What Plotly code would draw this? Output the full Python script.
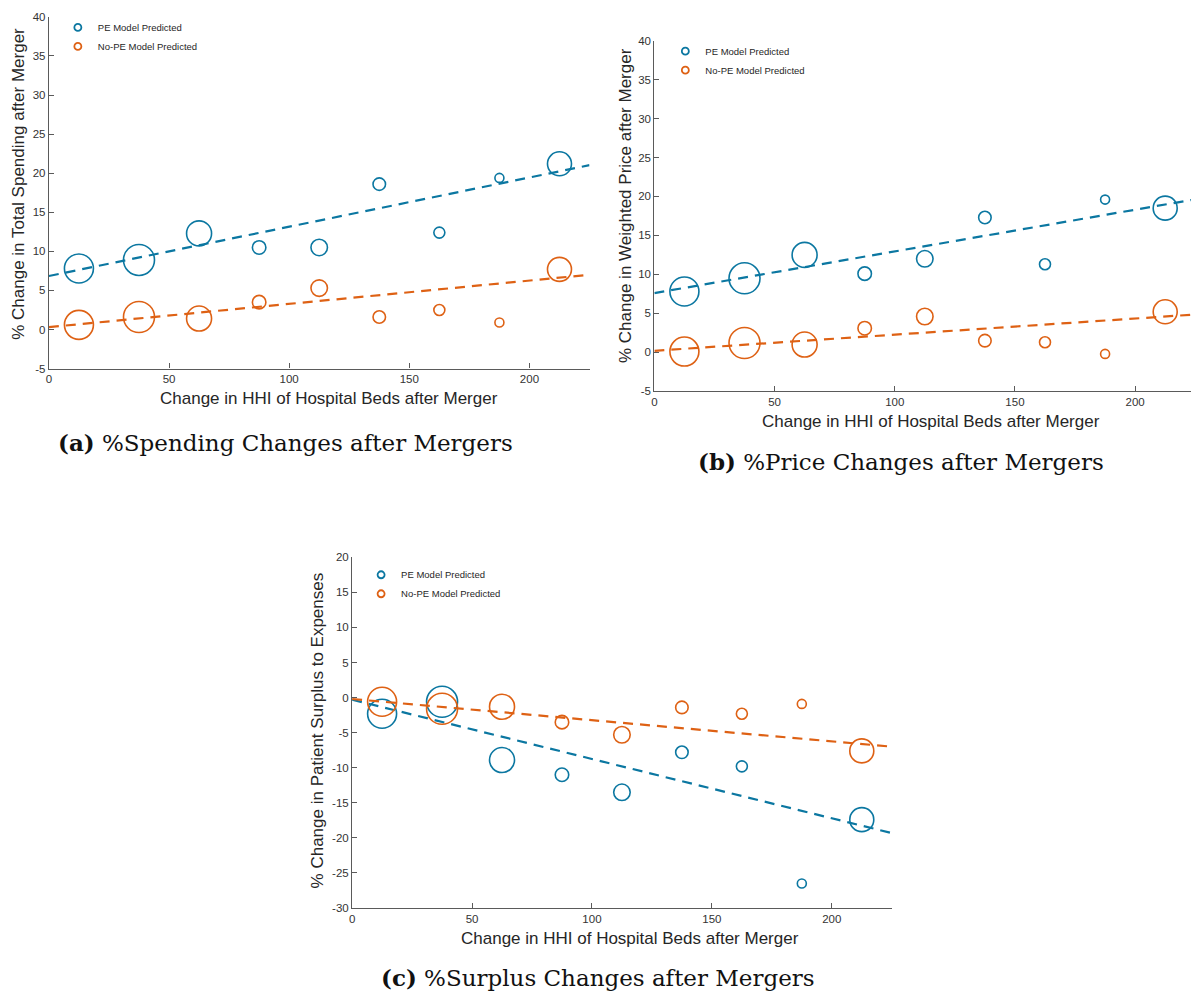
import plotly.graph_objects as go

# ---------------- data ----------------
hhi_bins = [12.5, 37.5, 62.5, 87.5, 112.5, 137.5, 162.5, 187.5, 212.5]
bin_weight = [29, 31, 25, 13.5, 16.5, 12.5, 11, 9, 24]  # marker diameter per bin

spend_pe = [7.8, 8.9, 12.3, 10.5, 10.5, 18.6, 12.4, 19.4, 21.2]
spend_nope = [0.6, 1.6, 1.4, 3.5, 5.3, 1.6, 2.5, 0.9, 7.7]
spend_fit_pe = (6.85, 0.063)      # intercept, slope
spend_fit_nope = (0.3, 0.0298)

price_pe = [7.8, 9.5, 12.5, 10.1, 12.0, 17.3, 11.3, 19.6, 18.5]
price_nope = [0.1, 1.2, 1.0, 3.1, 4.6, 1.5, 1.3, -0.2, 5.2]
price_fit_pe = (7.6, 0.0535)
price_fit_nope = (0.2, 0.0207)

surplus_pe = [-2.3, -0.6, -8.9, -11.0, -13.5, -7.8, -9.8, -26.5, -17.4]
surplus_nope = [-0.6, -1.6, -1.3, -3.5, -5.3, -1.4, -2.3, -0.9, -7.6]
surplus_fit_pe = (-0.3, -0.0845)
surplus_fit_nope = (-0.2, -0.0302)

fit_x = [0, 225]
x_ticks = [0, 50, 100, 150, 200]
y_ticks_ab = [-5, 0, 5, 10, 15, 20, 25, 30, 35, 40]
y_ticks_c = [-30, -25, -20, -15, -10, -5, 0, 5, 10, 15, 20]

series_names = ["PE Model Predicted", "No-PE Model Predicted"]
blue = "#0B77A1"
orange = "#DE6114"

panels = [
    dict(pe=spend_pe, nope=spend_nope, fpe=spend_fit_pe, fno=spend_fit_nope,
         ytitle="% Change in Total Spending after Merger",
         caption="<b>(a)</b> %Spending Changes after Mergers",
         yrange=[-5, 40], yticks=y_ticks_ab, xdom=[46, 588], ydom=[11, 367], xmax=225,
         legend_pos=(55, 7), xt=(327, 397), yt=(16, 180), cap=(283, 442)),
    dict(pe=price_pe, nope=price_nope, fpe=price_fit_pe, fno=price_fit_nope,
         ytitle="% Change in Weighted Price after Merger",
         caption="<b>(b)</b> %Price Changes after Mergers",
         yrange=[-5, 40], yticks=y_ticks_ab, xdom=[653, 1191], ydom=[35, 390], xmax=(1191 - 653) / 2.41,
         legend_pos=(664, 31), xt=(930, 421), yt=(624, 202), cap=(900, 461)),
    dict(pe=surplus_pe, nope=surplus_nope, fpe=surplus_fit_pe, fno=surplus_fit_nope,
         ytitle="% Change in Patient Surplus to Expenses",
         caption="<b>(c)</b> %Surplus Changes after Mergers",
         yrange=[-30, 20], yticks=y_ticks_c, xdom=[350, 891], ydom=[558, 913], xmax=225,
         legend_pos=(359, 561), xt=(629, 944), yt=(315, 733), cap=(597, 983)),
]

W, H = 1191, 1000
fig = go.Figure()
annotations = []
axis_common = dict(showgrid=False, zeroline=False, showline=True, linecolor="#5a5a5a",
                   linewidth=1.2, ticks="inside", ticklen=5, tickcolor="#5a5a5a",
                   tickfont=dict(family="Liberation Sans, Arial", size=11.5, color="#333333"))

for i, p in enumerate(panels, start=1):
    xa = "x" if i == 1 else f"x{i}"
    ya = "y" if i == 1 else f"y{i}"
    leg = "legend" if i == 1 else f"legend{i}"
    for vals, fit, col, name in [(p["pe"], p["fpe"], blue, series_names[0]),
                                 (p["nope"], p["fno"], orange, series_names[1])]:
        fig.add_trace(go.Scatter(
            x=hhi_bins, y=vals, mode="markers", xaxis=xa, yaxis=ya, showlegend=False, name=name,
            marker=dict(symbol="circle-open", size=bin_weight, color=col, opacity=1,
                        line=dict(width=1.6, color=col)),
            cliponaxis=False, hoverinfo="x+y"))
        fig.add_trace(go.Scatter(
            x=fit_x, y=[fit[0] + fit[1] * xv for xv in fit_x], mode="lines",
            xaxis=xa, yaxis=ya, showlegend=False,
            line=dict(color=col, width=2.2, dash="10px,7px"), hoverinfo="skip"))
    for col, name in [(blue, series_names[0]), (orange, series_names[1])]:
        fig.add_trace(go.Scatter(
            x=[None], y=[None], mode="markers", xaxis=xa, yaxis=ya, name=name, legend=leg,
            marker=dict(symbol="circle-open", size=7, color=col, opacity=1,
                        line=dict(width=1.8, color=col))))

    xd = [p["xdom"][0] / W, p["xdom"][1] / W]
    yd = [1 - p["ydom"][1] / H, 1 - p["ydom"][0] / H]
    xkey = "xaxis" if i == 1 else f"xaxis{i}"
    ykey = "yaxis" if i == 1 else f"yaxis{i}"
    fig.update_layout(**{
        xkey: dict(domain=xd, range=[0, p["xmax"]], anchor=ya, tickmode="array",
                   tickvals=x_ticks, ticktext=[str(v) for v in x_ticks], **axis_common),
        ykey: dict(domain=yd, range=p["yrange"], anchor=xa, tickmode="array",
                   tickvals=p["yticks"], ticktext=[str(v) for v in p["yticks"]], **axis_common),
        leg: dict(x=p["legend_pos"][0] / W, y=1 - p["legend_pos"][1] / H, xanchor="left", yanchor="top",
                  bgcolor="rgba(0,0,0,0)", borderwidth=0, tracegroupgap=0,
                  font=dict(family="Liberation Sans, Arial", size=9.5, color="#262626")),
    })
    annotations.append(dict(text="Change in HHI of Hospital Beds after Merger", xref="paper", yref="paper",
                            x=p["xt"][0] / W, y=1 - p["xt"][1] / H, showarrow=False,
                            xanchor="center", yanchor="middle",
                            font=dict(family="Liberation Sans, Arial", size=17, color="#262626")))
    annotations.append(dict(text=p["ytitle"], xref="paper", yref="paper", textangle=-90,
                            x=p["yt"][0] / W, y=1 - p["yt"][1] / H, showarrow=False,
                            xanchor="center", yanchor="middle",
                            font=dict(family="Liberation Sans, Arial", size=17, color="#262626")))
    annotations.append(dict(text=p["caption"], xref="paper", yref="paper",
                            x=p["cap"][0] / W, y=1 - p["cap"][1] / H, showarrow=False,
                            xanchor="center", yanchor="middle",
                            font=dict(family="DejaVu Serif, Liberation Serif", size=23, color="#111111")))

fig.update_layout(width=W, height=H, margin=dict(l=0, r=0, t=0, b=0),
                  paper_bgcolor="white", plot_bgcolor="white",
                  annotations=annotations, showlegend=True)
fig.write_html("out.html")
